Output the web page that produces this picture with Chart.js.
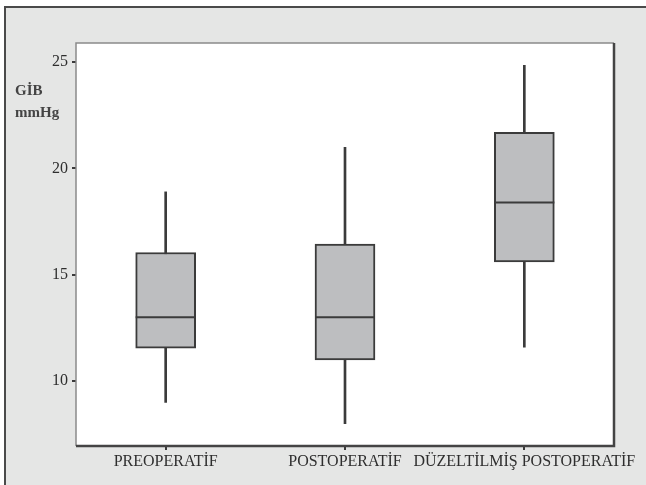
<!DOCTYPE html>
<html>
<head>
<meta charset="utf-8">
<script src="https://cdn.jsdelivr.net/npm/chart.js@4/dist/chart.umd.min.js"></script>
<style>
  html, body { margin: 0; padding: 0; background: #ffffff; }
  #wrap { width: 646px; height: 485px; }
</style>
</head>
<body>
<div id="wrap"><canvas id="c" width="646" height="485"></canvas></div>
<script>
// Intraocular pressure (GİB, mmHg) box plots per group
const categories = ['PREOPERATİF', 'POSTOPERATİF', 'DÜZELTİLMİŞ POSTOPERATİF'];
const whiskerLow  = [9.0, 8.0, 11.6];
const q1          = [11.55, 11.0, 15.6];
const medians     = [13.0, 13.0, 18.4];
const q3          = [16.05, 16.45, 21.7];
const whiskerHigh = [18.9, 21.0, 24.85];
const yTicks      = [10, 15, 20, 25];
const yUnitLines  = ['GİB', 'mmHg'];

const INK = '#3b3b3b';
const TEXT = '#2e2e2e';
const FONT = 'Liberation Serif';

// page background, outer frame and white plotting field
const backdrop = {
  id: 'backdrop',
  beforeDraw(chart) {
    const { ctx, width, height, chartArea: a } = chart;
    ctx.save();
    ctx.fillStyle = '#ffffff';
    ctx.fillRect(0, 0, width, height);
    ctx.fillStyle = '#e5e6e5';
    ctx.fillRect(5, 7, width - 5, height - 7);
    ctx.strokeStyle = '#4a4a4a';
    ctx.lineWidth = 2;
    ctx.beginPath();
    ctx.moveTo(5, height);
    ctx.lineTo(5, 7);
    ctx.lineTo(width, 7);
    ctx.stroke();
    ctx.fillStyle = '#ffffff';
    ctx.fillRect(a.left, a.top, a.right - a.left, a.bottom - a.top);
    ctx.restore();
  },
  afterDraw(chart) {
    const { ctx, chartArea: a } = chart;
    ctx.save();
    // plot frame: light top/left, heavier right/bottom
    ctx.strokeStyle = '#8a8a8a';
    ctx.lineWidth = 1.5;
    ctx.beginPath();
    ctx.moveTo(a.left, a.bottom);
    ctx.lineTo(a.left, a.top);
    ctx.lineTo(a.right, a.top);
    ctx.stroke();
    ctx.strokeStyle = '#444444';
    ctx.lineWidth = 2.5;
    ctx.beginPath();
    ctx.moveTo(a.right, a.top);
    ctx.lineTo(a.right, a.bottom);
    ctx.lineTo(a.left, a.bottom);
    ctx.stroke();
    // unit label in the top-left corner
    ctx.fillStyle = '#444444';
    ctx.font = 'bold 15px "' + FONT + '"';
    ctx.textAlign = 'left';
    ctx.textBaseline = 'alphabetic';
    ctx.fillText(yUnitLines[0], 15, 95);
    ctx.fillText(yUnitLines[1], 15, 117);
    ctx.restore();
  }
};

new Chart(document.getElementById('c'), {
  type: 'bar',
  data: {
    labels: categories,
    datasets: [
      {
        // median line across each box
        type: 'line',
        data: medians,
        showLine: false,
        pointStyle: 'line',
        pointRadius: 30,
        pointHoverRadius: 30,
        pointBorderColor: INK,
        pointBorderWidth: 2,
        borderColor: INK,
        order: 0
      },
      {
        // interquartile box
        type: 'bar',
        data: categories.map((_, i) => [q1[i], q3[i]]),
        backgroundColor: '#bdbec0',
        borderColor: INK,
        borderWidth: 2,
        borderSkipped: false,
        barThickness: 60,
        grouped: false,
        order: 1
      },
      {
        // whisker from min to max, covered by the box in the middle
        type: 'bar',
        data: categories.map((_, i) => [whiskerLow[i], whiskerHigh[i]]),
        backgroundColor: INK,
        borderWidth: 0,
        barThickness: 2,
        grouped: false,
        order: 2
      }
    ]
  },
  options: {
    responsive: false,
    animation: false,
    devicePixelRatio: 1,
    layout: { padding: { top: 43, right: 27, bottom: 0, left: 0 } },
    plugins: { legend: { display: false }, tooltip: { enabled: false } },
    scales: {
      x: {
        offset: true,
        border: { display: false },
        grid: { display: true, offset: false, drawOnChartArea: false, drawTicks: true, tickLength: 4, color: INK, lineWidth: 2 },
        ticks: { color: TEXT, font: { family: FONT, size: 16 }, padding: 2, maxRotation: 0, autoSkip: false },
        afterFit: s => { s.height = 39; }
      },
      y: {
        min: 6.95,
        max: 25.9,
        border: { display: false },
        grid: { display: true, drawOnChartArea: false, drawTicks: true, tickLength: 4, color: INK, lineWidth: 2 },
        ticks: { stepSize: 5, includeBounds: false, color: TEXT, font: { family: FONT, size: 16 }, padding: 4 },
        afterBuildTicks: s => { s.ticks = yTicks.map(v => ({ value: v })); },
        afterFit: s => { s.width = 76; }
      }
    }
  },
  plugins: [backdrop]
});
</script>
</body>
</html>
